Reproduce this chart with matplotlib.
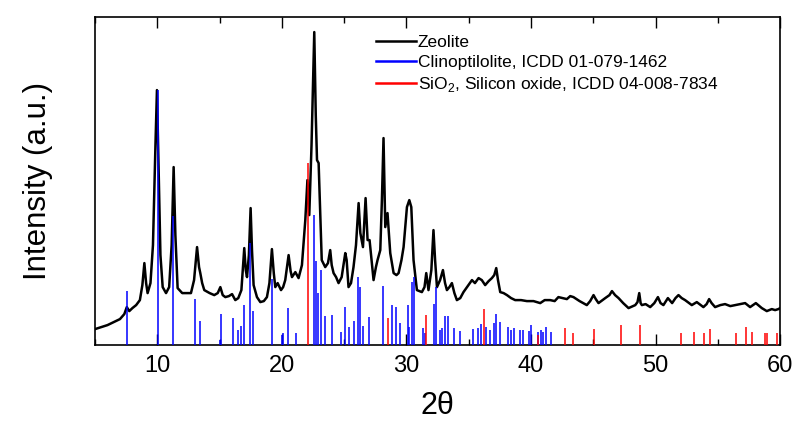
import matplotlib.pyplot as plt
from matplotlib.ticker import MultipleLocator

plt.rcParams['font.family'] = ['Liberation Sans', 'DejaVu Sans']
plt.rcParams['mathtext.fontset'] = 'custom'
plt.rcParams['mathtext.rm'] = 'Liberation Sans'

# measured pattern: 2theta (deg) and intensity (a.u.)
zeo_2theta = [5.0, 5.5, 6.0, 6.5, 7.0, 7.35, 7.55, 7.75, 8.0, 8.3, 8.6, 8.8, 8.96, 9.1, 9.22,
              9.45, 9.65, 9.85, 9.97, 10.1, 10.25, 10.43, 10.7, 10.95, 11.15, 11.31, 11.45,
              11.63, 12.0, 12.4, 12.7, 12.95, 13.19, 13.35, 13.45, 13.6, 13.77, 14.2, 14.57,
              14.85, 15.06, 15.25, 15.46, 15.75, 16.0, 16.26, 16.5, 16.75, 16.98, 17.1, 17.2,
              17.35, 17.49, 17.6, 17.73, 18.0, 18.27, 18.55, 18.8, 19.0, 19.2, 19.35, 19.47,
              19.66, 19.93, 20.1, 20.27, 20.54, 20.7, 20.81, 21.08, 21.34, 21.61, 21.88, 22.05,
              22.2, 22.38, 22.6, 22.72, 22.82, 22.95, 23.08, 23.2, 23.48, 23.7, 23.88, 24.0,
              24.15, 24.35, 24.55, 24.8, 25.09, 25.2, 25.35, 25.55, 25.75, 25.95, 26.16, 26.3,
              26.51, 26.72, 26.88, 27.04, 27.2, 27.36, 27.55, 27.68, 27.9, 28.03, 28.16, 28.3,
              28.48, 28.7, 28.97, 29.2, 29.37, 29.6, 29.77, 30.04, 30.23, 30.39, 30.57, 30.84,
              31.24, 31.45, 31.59, 31.77, 32.0, 32.17, 32.3, 32.45, 32.7, 32.93, 33.1, 33.25,
              33.45, 33.65, 33.85, 34.05, 34.32, 34.58, 34.98, 35.26, 35.5, 35.79, 36.05, 36.32,
              36.6, 36.86, 37.05, 37.21, 37.35, 37.53, 37.8, 38.07, 38.4, 38.73, 39.2, 39.67,
              40.2, 40.74, 41.1, 41.54, 41.9, 42.2, 42.55, 42.88, 43.15, 43.41, 43.9, 44.48,
              44.75, 45.02, 45.2, 45.42, 45.96, 46.3, 46.5, 46.75, 47.03, 47.4, 47.83, 48.37,
              48.55, 48.69, 48.8, 48.9, 49.2, 49.57, 49.9, 50.19, 50.4, 50.63, 50.99, 51.33,
              51.6, 51.84, 52.1, 52.37, 52.91, 53.31, 53.84, 54.1, 54.3, 54.5, 54.78, 55.2,
              55.58, 56.0, 56.39, 56.8, 57.19, 57.59, 58.05, 58.53, 58.93, 59.33, 59.6, 59.86, 60.0]
zeo_int = [16, 18, 20, 23, 26, 31, 38, 34, 37, 40, 45, 60, 82, 62, 52,
           62, 100, 200, 255, 180, 90, 58, 52, 58, 100, 178, 110,
           57, 52, 52, 52, 65, 98, 78, 72, 62, 55, 52, 50,
           52, 58, 50, 48, 49, 51, 45, 47, 55, 97, 75, 68,
           90, 137, 95, 60, 48, 43, 44, 48, 62, 96, 72, 58,
           62, 55, 58, 65, 90, 74, 68, 73, 67, 80, 125, 165,
           130, 200, 313, 230, 185, 182, 130, 85, 78, 82, 95, 80,
           72, 68, 62, 68, 92, 85, 58, 62, 78, 100, 142, 112,
           98, 147, 105, 105, 85, 65, 78, 85, 95, 145, 207, 118,
           132, 92, 72, 70, 72, 85, 98, 138, 145, 138, 85, 55,
           53, 58, 72, 55, 75, 115, 85, 58, 65, 75, 62, 55,
           58, 62, 52, 45, 47, 53, 60, 65, 62, 67, 65, 60,
           64, 67, 70, 77, 65, 53, 52, 50, 47, 45, 45, 44,
           44, 42, 45, 45, 44, 48, 47, 46, 49, 48, 44, 40,
           44, 50, 46, 42, 47, 50, 54, 50, 47, 42, 37, 40,
           43, 52, 42, 40, 41, 38, 42, 48, 42, 40, 47, 42,
           47, 50, 47, 45, 40, 43, 38, 41, 46, 42, 38, 40,
           41, 39, 40, 41, 42, 38, 42, 37, 34, 36, 35, 36, 37]

# reference lines, ICDD 01-079-1462
clino_2theta = [7.57, 10.03, 11.28, 13.05, 13.42, 15.02, 15.1, 16.07, 16.47, 16.71, 16.95,
                17.46, 17.7, 19.23, 20.0, 20.11, 20.46, 21.1, 22.57, 22.74, 22.87, 23.16,
                23.43, 24.05, 24.78, 25.03, 25.41, 25.79, 26.1, 26.27, 26.53, 26.96, 28.11,
                28.81, 29.18, 29.5, 30.09, 30.2, 30.41, 30.57, 31.33, 31.53, 32.18, 32.34,
                32.66, 32.85, 33.12, 33.3, 33.78, 34.26, 35.34, 35.74, 35.98, 36.4, 36.67,
                36.99, 37.21, 37.48, 38.12, 38.39, 38.6, 39.08, 39.35, 39.8, 40.02, 40.53,
                40.8, 41.0, 41.22, 41.6]
clino_int = [54, 255, 129, 46, 24, 5, 31, 27, 15, 19, 40,
             102, 34, 66, 10, 12, 37, 12, 130, 84, 52, 75,
             29, 30, 13, 38, 18, 24, 68, 58, 19, 28, 59,
             40, 38, 22, 40, 18, 63, 68, 17, 12, 41, 58,
             15, 17, 29, 29, 17, 14, 16, 17, 21, 18, 15,
             22, 31, 23, 18, 15, 17, 15, 15, 14, 20, 13,
             15, 13, 18, 13]

# reference lines, ICDD 04-008-7834
sio2_2theta = [22.06, 28.54, 31.59, 36.2, 40.53, 42.75, 43.36, 45.02, 47.24, 48.76, 52.08,
               53.07, 53.88, 54.38, 56.47, 57.25, 57.73, 58.8, 58.98, 59.73]
sio2_int = [182, 27, 30, 36, 10, 17, 12, 16, 20, 20, 12,
            13, 12, 16, 12, 18, 13, 12, 12, 12]

fig = plt.figure(figsize=(7.92, 4.25), dpi=100)
ax = fig.add_axes([0.12, 0.188, 0.865, 0.773])

ax.plot(zeo_2theta, zeo_int, color='black', lw=1.8, label='Zeolite', zorder=2)
ax.vlines(clino_2theta, 0, clino_int, colors='#0000ff', lw=1.1, zorder=3)
ax.vlines(sio2_2theta, 0, sio2_int, colors='#ff0000', lw=1.1, zorder=3)
ax.plot([], [], color='#0000ff', lw=1.8, label='Clinoptilolite, ICDD 01-079-1462')
ax.plot([], [], color='#ff0000', lw=1.8,
        label=r'SiO$_\mathregular{2}$, Silicon oxide, ICDD 04-008-7834')

ax.set_xlim(5, 60)
ax.set_ylim(0, 328.5)
ax.xaxis.set_major_locator(MultipleLocator(10))
ax.xaxis.set_minor_locator(MultipleLocator(5))
ax.tick_params(axis='x', which='both', direction='in', top=True, bottom=True,
               width=1.0, labelsize=17, pad=7)
ax.tick_params(axis='x', which='major', length=8)
ax.tick_params(axis='x', which='minor', length=4)
ax.tick_params(axis='y', left=False, right=False, labelleft=False)
for lbl in ax.get_xticklabels():
    lbl.set_family(['Liberation Sans Narrow', 'Liberation Sans'])
for s in ax.spines.values():
    s.set_linewidth(1.2)

ax.set_xlabel('2θ', fontsize=22, labelpad=10)
ax.set_ylabel('Intensity (a.u.)', fontsize=22.5, labelpad=30)

ax.legend(loc='upper left', bbox_to_anchor=(0.41, 0.945), frameon=False,
          fontsize=12.5, handlelength=2.3, handletextpad=0.1, labelspacing=0.3,
          borderaxespad=0, borderpad=0)

fig.savefig('out.png', dpi=100)
